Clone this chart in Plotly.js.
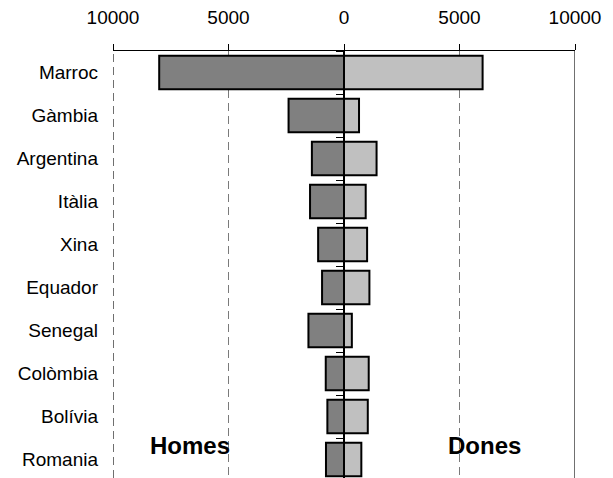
<!DOCTYPE html>
<html>
<head>
<meta charset="utf-8">
<script src="https://cdn.plot.ly/plotly-3.0.1.min.js"></script>
<style>html,body{margin:0;padding:0;background:#fff}#chart{width:613px;height:478px}</style>
</head>
<body>
<div id="chart"></div>
<script>
const categories = ["Marroc","Gàmbia","Argentina","Itàlia","Xina","Equador","Senegal","Colòmbia","Bolívia","Romania"];
const homes = [8000, 2400, 1390, 1470, 1120, 950, 1540, 790, 720, 780];
const dones = [6000, 650, 1410, 940, 1000, 1100, 340, 1070, 1030, 750];
const xTickVals = [-10000, -5000, 0, 5000, 10000];
const xTickText = ["10000", "5000", "0", "5000", "10000"];
const sideLabels = ["Homes", "Dones"];

const FONT = "Arial, 'Liberation Sans', sans-serif";
const yRange = [9.43, -0.5];

const traces = [
  {
    type: "bar", orientation: "h", name: sideLabels[0],
    y: categories, x: homes.map(v => -v),
    marker: {color: "#808080", line: {color: "#000", width: 2}},
    hoverinfo: "skip"
  },
  {
    type: "bar", orientation: "h", name: sideLabels[1],
    y: categories, x: dones,
    marker: {color: "#c0c0c0", line: {color: "#000", width: 2}},
    hoverinfo: "skip"
  },
  {
    type: "scatter", mode: "markers", yaxis: "y2",
    y: categories, x: categories.map(() => 0),
    marker: {opacity: 0}, hoverinfo: "skip", showlegend: false
  }
];

const layout = {
  width: 613, height: 478,
  margin: {l: 113, r: 38, t: 51, b: 0, pad: 0},
  paper_bgcolor: "#fff", plot_bgcolor: "#fff",
  showlegend: false,
  barmode: "relative",
  bargap: 0.22,
  font: {family: FONT, size: 19, color: "#000"},
  xaxis: {
    side: "top", range: [-10000, 10000],
    tickmode: "array", tickvals: xTickVals, ticktext: xTickText,
    ticks: "outside", ticklen: 6, tickcolor: "#000", tickwidth: 1,
    ticklabelstandoff: 12,
    showline: true, linecolor: "#000", linewidth: 1,
    showgrid: true, gridcolor: "#7a7a7a", gridwidth: 1, griddash: "8px,5px",
    zeroline: false, fixedrange: true
  },
  yaxis: {
    type: "category", categoryorder: "array", categoryarray: categories,
    range: yRange, showline: false, showgrid: false, zeroline: false,
    ticks: "", ticklabelstandoff: 14, fixedrange: true
  },
  yaxis2: {
    type: "category", categoryorder: "array", categoryarray: categories,
    range: yRange, overlaying: "y", anchor: "free", position: 0.5, side: "left",
    showline: true, linecolor: "#000", linewidth: 2,
    ticks: "outside", ticklen: 7, tickcolor: "#000", tickwidth: 1,
    tickson: "boundaries", showticklabels: false, showgrid: false, zeroline: false,
    fixedrange: true
  },
  shapes: [
    {type: "line", xref: "x", yref: "paper", x0: 10000, x1: 10000, y0: 0, y1: 1,
     line: {color: "#404040", width: 1.5}},
    {type: "line", xref: "x", yref: "paper", x0: -10000, x1: -10000, y0: 0, y1: 1,
     line: {color: "#404040", width: 1.5, dash: "8px,5px"}}
  ],
  annotations: [
    {text: "<b>" + sideLabels[0] + "</b>", xref: "x", yref: "paper", x: -6680, y: 0.04,
     showarrow: false, font: {family: FONT, size: 24, color: "#000"}},
    {text: "<b>" + sideLabels[1] + "</b>", xref: "x", yref: "paper", x: 6080, y: 0.04,
     showarrow: false, font: {family: FONT, size: 24, color: "#000"}}
  ]
};

Plotly.newPlot("chart", traces, layout, {displayModeBar: false, staticPlot: true});
</script>
</body>
</html>
